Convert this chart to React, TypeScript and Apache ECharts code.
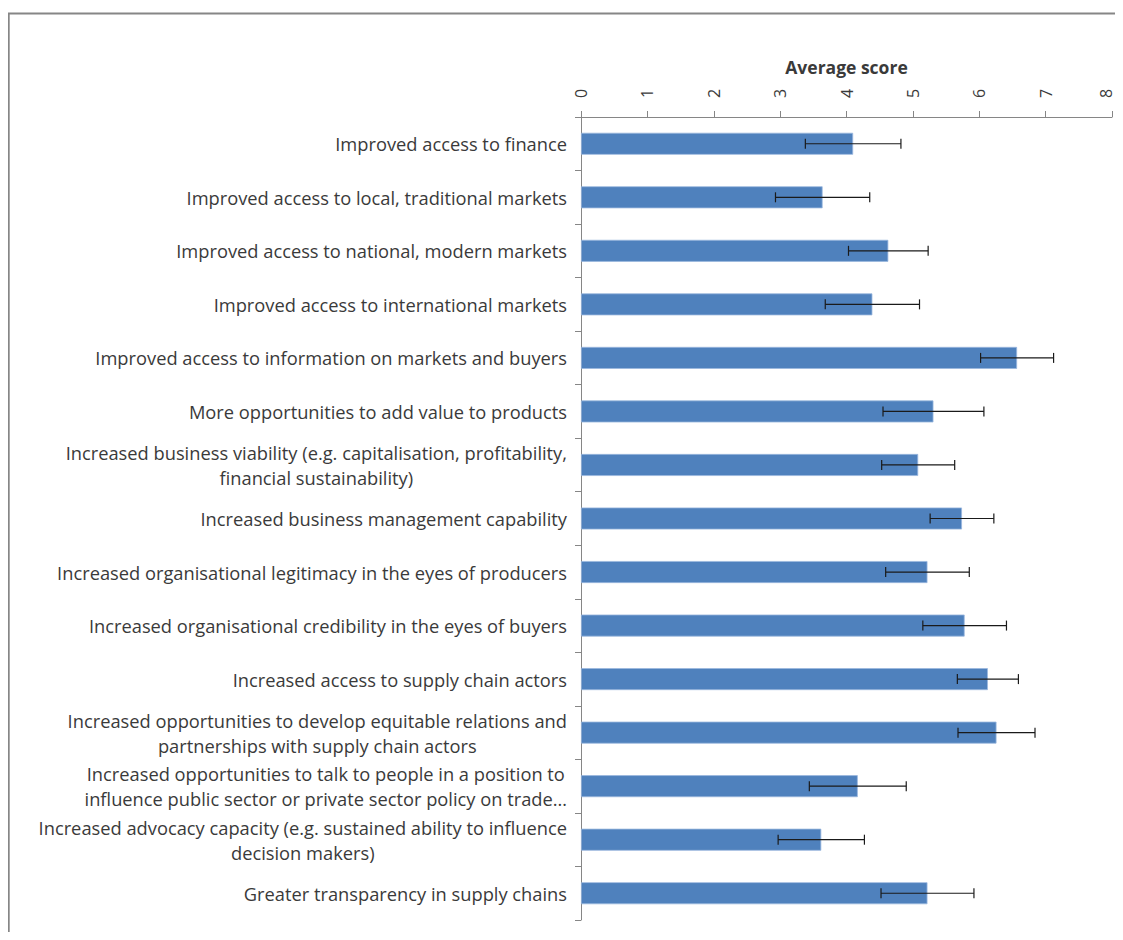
import React, { useEffect, useRef } from "react";
import * as echarts from "echarts";

const categories: string[] = [
  "Improved access to finance",
  "Improved access to local, traditional markets",
  "Improved access to national, modern markets",
  "Improved access to international markets",
  "Improved access to information on markets and buyers",
  "More opportunities to add value to products",
  "Increased business viability (e.g. capitalisation, profitability,\nfinancial sustainability)",
  "Increased business management capability",
  "Increased organisational legitimacy in the eyes of producers",
  "Increased organisational credibility in the eyes of buyers",
  "Increased access to supply chain actors",
  "Increased opportunities to develop equitable relations and\npartnerships with supply chain actors",
  "Increased opportunities to talk to people in a position to\ninfluence public sector or private sector policy on trade…",
  "Increased advocacy capacity (e.g. sustained ability to influence\ndecision makers)",
  "Greater transparency in supply chains",
];

const averageScores: number[] = [
  4.1, 3.64, 4.63, 4.39, 6.57, 5.31, 5.08, 5.74, 5.22, 5.78, 6.13, 6.26, 4.17, 3.62, 5.22,
];

const errorMargins: number[] = [
  0.72, 0.71, 0.6, 0.71, 0.55, 0.76, 0.55, 0.48, 0.63, 0.63, 0.46, 0.58, 0.73, 0.65, 0.7,
];

const axisMin = 0;
const axisMax = 8;
const axisInterval = 1;
const axisTitle = "Average score";

export default function App() {
  const ref = useRef<HTMLDivElement>(null);

  useEffect(() => {
    if (!ref.current) return;
    const chart = echarts.init(ref.current, null, { renderer: "svg" });
    const errorData = averageScores.map((v, i) => [i, v - errorMargins[i], v + errorMargins[i]]);
    const labelFont = "'Open Sans', 'Noto Sans', sans-serif";

    chart.setOption({
      animation: false,
      backgroundColor: "#ffffff",
      graphic: [
        {
          type: "rect",
          shape: { x: 0.8, y: 5.5, width: 3000, height: 3000 },
          style: { fill: "none", stroke: "#868686", lineWidth: 1.8 },
          silent: true,
        },
      ],
      grid: { left: 573, right: 11, top: 109, bottom: 12, containLabel: false },
      xAxis: {
        type: "value",
        position: "top",
        min: axisMin,
        max: axisMax,
        interval: axisInterval,
        name: axisTitle,
        nameLocation: "middle",
        nameGap: 41,
        nameTextStyle: { fontFamily: labelFont, fontSize: 17.5, fontWeight: "bold", color: "#3a3a3a" },
        axisLine: { show: true, lineStyle: { color: "#868686", width: 1 } },
        axisTick: { show: true, length: 6, inside: false, lineStyle: { color: "#868686" } },
        splitLine: { show: false },
        axisLabel: {
          rotate: -90,
          margin: 19,
          fontFamily: labelFont,
          fontSize: 16,
          color: "#3a3a3a",
          formatter: (v: number) => (v === axisMax ? `{e|${v}}` : String(v)),
          rich: {
            e: { fontFamily: labelFont, fontSize: 16, color: "#3a3a3a", padding: [0, 0, 12, 0] },
          },
        },
      },
      yAxis: {
        type: "category",
        inverse: true,
        data: categories,
        axisLine: { show: true, lineStyle: { color: "#868686", width: 1 } },
        axisTick: { show: true, length: 6, inside: false, lineStyle: { color: "#868686" } },
        axisLabel: {
          margin: 14,
          fontFamily: labelFont,
          fontSize: 18.3,
          color: "#3a3a3a",
          lineHeight: 25,
          formatter: (v: string) =>
            v
              .split("\n")
              .map((l) => `{c|${l}}`)
              .join("\n"),
          rich: {
            c: { align: "center", fontFamily: labelFont, fontSize: 18.3, color: "#3a3a3a", lineHeight: 25 },
          },
        },
      },
      series: [
        {
          type: "bar",
          data: averageScores,
          barWidth: 22,
          itemStyle: { color: "#4F81BD", borderColor: "#9bb7de", borderWidth: 0.8 },
        },
        {
          type: "custom",
          data: errorData,
          encode: { x: [1, 2], y: 0 },
          z: 5,
          renderItem: (params: any, api: any) => {
            const cat = api.value(0);
            const lo = api.coord([api.value(1), cat]);
            const hi = api.coord([api.value(2), cat]);
            const cap = 5;
            const style = { stroke: "#1a1a1a", lineWidth: 1.2 };
            return {
              type: "group",
              children: [
                { type: "line", shape: { x1: lo[0], y1: lo[1], x2: hi[0], y2: hi[1] }, style },
                { type: "line", shape: { x1: lo[0], y1: lo[1] - cap, x2: lo[0], y2: lo[1] + cap }, style },
                { type: "line", shape: { x1: hi[0], y1: hi[1] - cap, x2: hi[0], y2: hi[1] + cap }, style },
              ],
            };
          },
        },
      ],
    });

    return () => chart.dispose();
  }, []);

  return <div ref={ref} style={{ width: 1115, height: 924 }} />;
}
